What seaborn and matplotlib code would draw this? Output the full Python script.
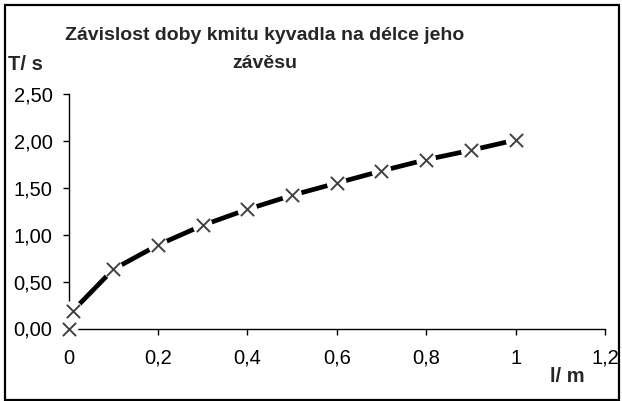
import matplotlib
matplotlib.use("Agg")
import matplotlib.pyplot as plt
import matplotlib.patches as patches
from matplotlib.ticker import FuncFormatter, MultipleLocator
import pandas as pd
import seaborn as sns

sns.set_style("ticks")
plt.rcParams["font.family"] = ["Liberation Sans", "DejaVu Sans"]

# délka závěsu l (m) a doba kmitu T (s)
delka = [0.0, 0.01, 0.1, 0.2, 0.3, 0.4, 0.5, 0.6, 0.7, 0.8, 0.9, 1.0]
doba = [0.0, 0.19, 0.63, 0.89, 1.10, 1.27, 1.42, 1.55, 1.68, 1.80, 1.90, 2.01]

df = pd.DataFrame({"l": delka, "T": doba})

fig = plt.figure(figsize=(6.22, 4.01), dpi=100)
ax = fig.add_axes([68.5 / 622, 72.5 / 401, (605 - 68.5) / 622, (328.5 - 94) / 401])

# line (first point is not connected in the original)
sns.lineplot(data=df.iloc[1:], x="l", y="T", color="black", linewidth=3.4, ax=ax, zorder=2)
# white background under markers leaves small gaps in the line
sns.scatterplot(data=df, x="l", y="T", marker="o", color="white", edgecolor="none", s=200, ax=ax, zorder=3)
sns.scatterplot(data=df, x="l", y="T", marker="x", color="#404040", s=90, linewidth=1.4, ax=ax, zorder=4)

ax.set_xlim(0, 1.2)
ax.set_ylim(0, 2.5)
ax.xaxis.set_major_locator(MultipleLocator(0.2))
ax.yaxis.set_major_locator(MultipleLocator(0.5))
ax.xaxis.set_major_formatter(FuncFormatter(lambda v, p: f"{v:g}".replace(".", ",")))
ax.yaxis.set_major_formatter(FuncFormatter(lambda v, p: f"{v:.2f}".replace(".", ",")))
ax.tick_params(axis="both", length=4.5, width=1, color="black", labelsize=14.5, labelcolor="black")
ax.tick_params(axis="y", pad=7)
ax.tick_params(axis="x", pad=10)
ax.set_xlabel("")
ax.set_ylabel("")
for side in ["top", "right"]:
    ax.spines[side].set_visible(False)
for side in ["left", "bottom"]:
    ax.spines[side].set_color("black")
    ax.spines[side].set_linewidth(1)
for coll in ax.collections:
    coll.set_clip_on(False)

fig.text(265 / 622, 1 - 35 / 401, "Závislost doby kmitu kyvadla na délce jeho",
         ha="center", va="center", fontsize=14, fontweight="bold")
fig.text(265 / 622, 1 - 64 / 401, "závěsu", ha="center", va="center", fontsize=14, fontweight="bold")
fig.text(8 / 622, 1 - 64 / 401, "T/ s", ha="left", va="center", fontsize=14.5, fontweight="bold")
fig.text(550 / 622, 1 - 376 / 401, "l/ m", ha="left", va="center", fontsize=14.5, fontweight="bold")

# outer chart border
fig.patches.append(patches.Rectangle((5 / 622, 1.5 / 401), 614 / 622, 395 / 401,
                                     transform=fig.transFigure, fill=False,
                                     edgecolor="black", linewidth=1.6))

fig.savefig("out.png", dpi=100)
